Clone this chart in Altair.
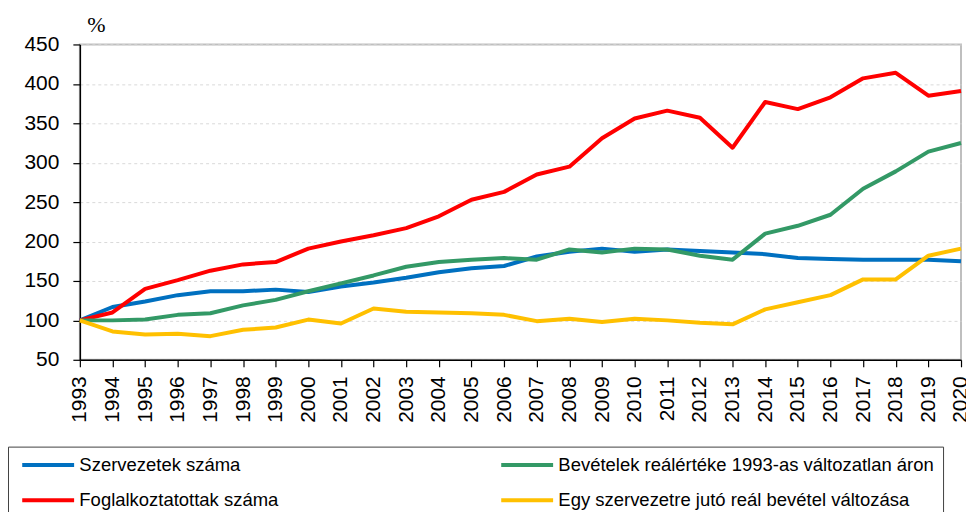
import altair as alt
import pandas as pd

years = list(range(1993, 2021))

# legend order (column-major: left column first, then right column)
series_names = [
    "Szervezetek száma",
    "Foglalkoztatottak száma",
    "Bevételek reálértéke 1993-as változatlan áron",
    "Egy szervezetre jutó reál bevétel változása",
]
series_colors = ["#0070C0", "#FF0000", "#339966", "#FFC000"]

szervezetek = [100, 117, 124, 132, 137, 137, 139, 136, 143, 148,
               154, 161, 166, 169, 181, 187, 191, 187, 190, 188,
               186, 184, 179, 178, 177, 177, 177, 175]
foglalkoztatottak = [100, 110, 140, 151, 163, 171, 174, 191, 200, 208,
                     217, 232, 253, 263, 285, 295, 331, 356, 366, 357,
                     319, 377, 368, 383, 407, 414, 385, 391]
bevetelek = [100, 100, 101, 107, 109, 119, 126, 137, 147, 157,
             168, 174, 177, 179, 177, 190, 186, 191, 190, 182,
             177, 210, 220, 234, 267, 289, 314, 325]
egy_szervezetre = [100, 86, 82, 83, 80, 88, 91, 101, 96, 115,
                   111, 110, 109, 107, 99, 102, 98, 102, 100, 97,
                   95, 114, 123, 132, 152, 152, 182, 191]

y_ticks = [50, 100, 150, 200, 250, 300, 350, 400, 450]

rows = []
for name, vals in zip(series_names, [szervezetek, foglalkoztatottak, bevetelek, egy_szervezetre]):
    for yr, v in zip(years, vals):
        rows.append({"ev": yr, "ertek": v, "sorozat": name})
df = pd.DataFrame(rows)

AXIS_FONT = "Liberation Sans"
LEG_FONT = "Liberation Sans"

chart = alt.Chart(df).mark_line(strokeWidth=4, strokeJoin="round").encode(
    x=alt.X(
        "ev:Q",
        scale=alt.Scale(domain=[1993, 2020], nice=False, zero=False),
        axis=alt.Axis(
            values=years, format="d", labelAngle=-90, labelAlign="right",
            labelBaseline="middle", grid=False, tickSize=7, labelPadding=9,
            title=None, labelFont=AXIS_FONT, labelFontSize=21, labelColor="black",
            domainColor="black", domainWidth=1.5, tickColor="black", tickWidth=1.2,
            labelOverlap=False, labelFlush=False,
        ),
    ),
    y=alt.Y(
        "ertek:Q",
        scale=alt.Scale(domain=[50, 450], nice=False, zero=False),
        axis=alt.Axis(
            values=y_ticks, title="%", titleAngle=0, titleX=16, titleY=-13,
            titleAlign="center", titleBaseline="alphabetic",
            titleFont="Liberation Serif", titleFontSize=22, titleFontWeight="normal",
            titleColor="black", grid=True, gridDash=[3, 3], gridColor="#D9D9D9",
            gridWidth=1, tickSize=7, labelPadding=14, labelFont=AXIS_FONT,
            labelFontSize=21, labelColor="black", domainColor="black",
            domainWidth=1.5, tickColor="black", tickWidth=1.2, labelOverlap=False,
        ),
    ),
    color=alt.Color(
        "sorozat:N",
        scale=alt.Scale(domain=series_names, range=series_colors),
        sort=series_names,
        legend=alt.Legend(
            title=None, orient="none", legendX=-72, legendY=403, columns=2,
            symbolType="M-4,0H4", symbolSize=169, symbolStrokeWidth=4,
            symbolOffset=22, labelOffset=22, labelFont=LEG_FONT,
            labelFontSize=18.5, labelColor="black", rowPadding=16.5,
            columnPadding=215, padding=9, strokeColor="#404040", labelLimit=600,
        ),
    ),
).properties(
    width=883,
    height=316,
    padding={"left": 72, "top": 36, "right": 5, "bottom": 152},
    autosize=alt.AutoSizeParams(type="none"),
).configure_view(
    stroke="#BFBFBF", strokeWidth=2
).configure_legend(
    strokeWidth=1
)

chart.save("out.html", embed_options={"renderer": "svg", "actions": False})
